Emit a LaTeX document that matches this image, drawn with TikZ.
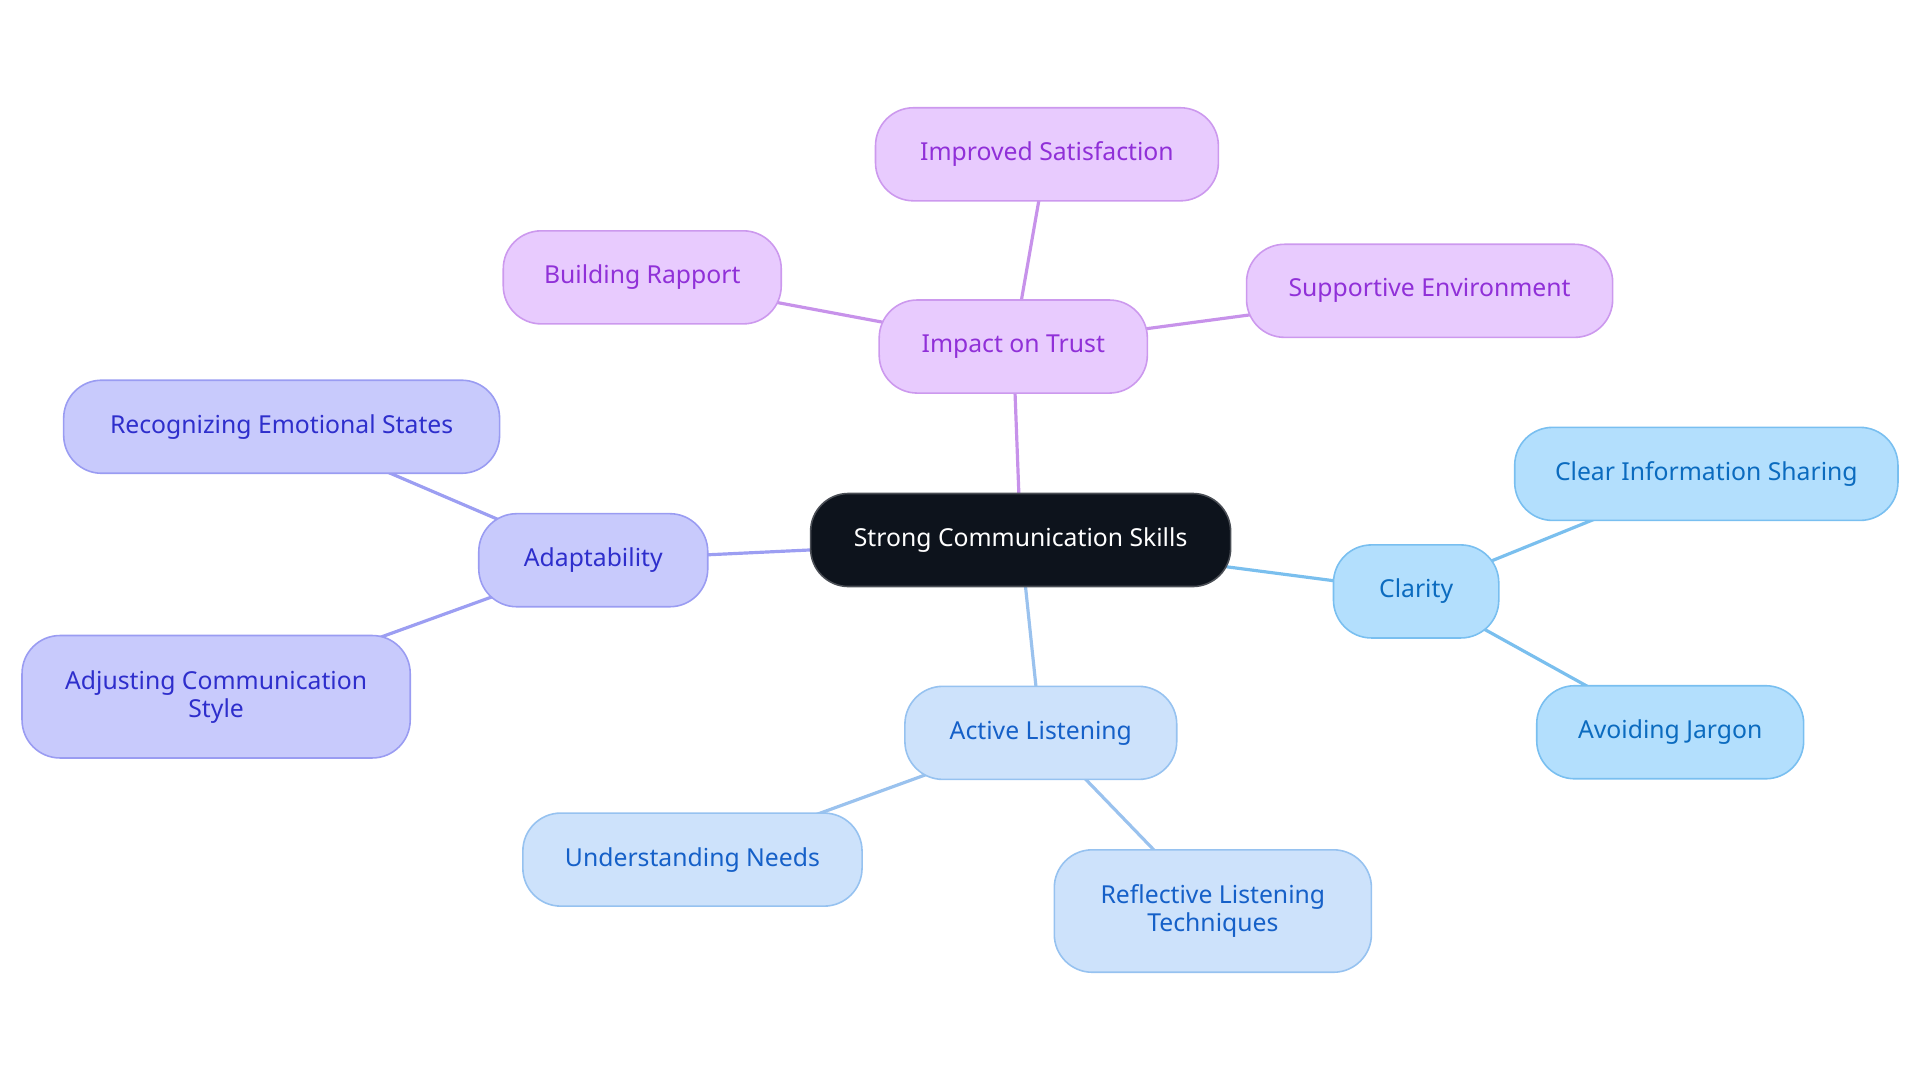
\documentclass[tikz,border=0pt]{standalone}
\usepackage{fontspec}
\setmainfont{Noto Sans}
\usetikzlibrary{backgrounds}
\definecolor{pfill}{HTML}{E8CBFE}\definecolor{pdraw}{HTML}{CC99EE}\definecolor{ptext}{HTML}{9030D8}\definecolor{pline}{HTML}{C792EA}
\definecolor{ifill}{HTML}{C8CAFC}\definecolor{idraw}{HTML}{9A9CF2}\definecolor{itext}{HTML}{2E2ECC}\definecolor{iline}{HTML}{9C9EF2}
\definecolor{cfill}{HTML}{B3DFFD}\definecolor{cdraw}{HTML}{79BFF0}\definecolor{ctext}{HTML}{0B6BBF}\definecolor{cline}{HTML}{7ABFEE}
\definecolor{afill}{HTML}{CDE2FB}\definecolor{adraw}{HTML}{96C2F0}\definecolor{atext}{HTML}{1560C8}\definecolor{aline}{HTML}{9AC2EE}
\definecolor{mfill}{HTML}{0D131C}\definecolor{mdraw}{HTML}{4A4E55}
\tikzset{
  box/.style={rounded corners=31pt, line width=1.3pt, align=center, inner sep=0pt,
    font=\fontsize{20.2}{23}\selectfont, minimum height=76pt},
  pbox/.style={box, fill=pfill, draw=pdraw, text=ptext},
  ibox/.style={box, fill=ifill, draw=idraw, text=itext},
  cbox/.style={box, fill=cfill, draw=cdraw, text=ctext},
  abox/.style={box, fill=afill, draw=adraw, text=atext},
  mbox/.style={box, fill=mfill, draw=mdraw, text=white},
  conn/.style={line width=2.6pt},
}
\begin{document}
\begin{tikzpicture}[x=1pt,y=-1pt]
\useasboundingbox (0,0) rectangle (1568,884.4);
\node[mbox, minimum width=343pt] (root) at (833.5,441) {Strong Communication Skills};
\node[pbox, minimum width=219pt] (trust) at (827.5,283) {Impact on Trust};
\node[pbox, minimum width=280pt] (sat) at (855,126) {Improved Satisfaction};
\node[pbox, minimum width=227pt] (rap) at (524.5,226.5) {Building Rapport};
\node[pbox, minimum width=299pt] (env) at (1167.5,237.5) {Supportive Environment};
\node[ibox, minimum width=187pt] (adapt) at (484.5,457.5) {Adaptability};
\node[ibox, minimum width=356pt] (emo) at (230,348.5) {Recognizing Emotional States};
\node[ibox, minimum width=317pt, minimum height=100pt] (style) at (176.5,569) {Adjusting Communication\\Style};
\node[cbox, minimum width=135pt] (clar) at (1156.5,483) {Clarity};
\node[cbox, minimum width=313pt] (info) at (1393.5,387) {Clear Information Sharing};
\node[cbox, minimum width=218pt] (jarg) at (1364,598) {Avoiding Jargon};
\node[abox, minimum width=222pt] (act) at (850,598.5) {Active Listening};
\node[abox, minimum width=277pt] (need) at (565.5,702) {Understanding Needs};
\node[abox, minimum width=259pt, minimum height=100pt] (refl) at (990.5,744) {Reflective Listening\\Techniques};
\begin{scope}[on background layer]
\draw[conn, pline] (root.center) -- (trust.center);
\draw[conn, pline] (trust.center) -- (sat.center);
\draw[conn, pline] (trust.center) -- (rap.center);
\draw[conn, pline] (trust.center) -- (env.center);
\draw[conn, iline] (root.center) -- (adapt.center);
\draw[conn, iline] (adapt.center) -- (emo.center);
\draw[conn, iline] (adapt.center) -- (style.center);
\draw[conn, cline] (root.center) -- (clar.center);
\draw[conn, cline] (clar.center) -- (info.center);
\draw[conn, cline] (clar.center) -- (jarg.center);
\draw[conn, aline] (root.center) -- (act.center);
\draw[conn, aline] (act.center) -- (need.center);
\draw[conn, aline] (act.center) -- (refl.center);
\end{scope}
\end{tikzpicture}
\end{document}
